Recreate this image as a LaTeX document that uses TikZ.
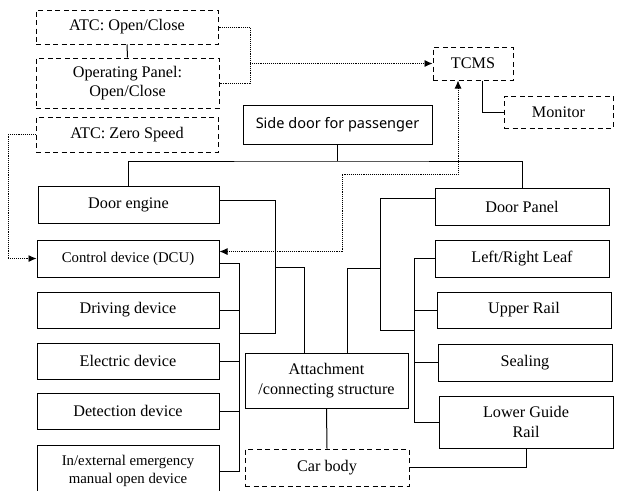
\documentclass[tikz,border=0pt]{standalone}
\usepackage{fontspec}
\setmainfont{Liberation Serif}
\newfontfamily\sidefont{Noto Sans}
\usetikzlibrary{arrows.meta}
\newcommand{\bx}{\fontsize{16.2}{19.5}\selectfont}
\newcommand{\sm}{\fontsize{14.8}{18.5}\selectfont}

\begin{document}
\begin{tikzpicture}[x=1pt,y=-1pt,line width=1pt,>={Latex[length=8pt,width=7pt]},
    box/.style={draw,inner sep=0pt,align=center,font=\bx},
    dbox/.style={box,dash pattern=on 5pt off 3.5pt},
    sig/.style={line width=0.9pt,densely dotted}]
      \useasboundingbox (0,0) rectangle (618,490);
      % signal boxes
      \node[dbox,minimum width=182,minimum height=34] (atc)  at (127,27)    {ATC: Open/Close};
      \node[dbox,minimum width=183,minimum height=50] (opp)  at (127.5,83)  {Operating Panel:\\Open/Close};
      \node[dbox,minimum width=182,minimum height=35] (zero) at (127,134.5) {ATC: Zero Speed};
      \node[dbox,minimum width=80, minimum height=33] (tcms) at (473,63.5)  {TCMS};
      \node[dbox,minimum width=109,minimum height=32] (mon)  at (558.5,112) {Monitor};
      % system tree
      \node[box,minimum width=189,minimum height=39,font=\sidefont\fontsize{14.5}{17}\selectfont]
                                                      (side) at (337.5,124.5) {Side door for passenger};
      \node[box,minimum width=181,minimum height=37] (eng)  at (128.5,204.5) {Door engine};
      \node[box,minimum width=182,minimum height=37,font=\sm] (dcu) at (128,258.5) {Control device (DCU)};
      \node[box,minimum width=182,minimum height=36] (drv)  at (128,310)   {Driving device};
      \node[box,minimum width=182,minimum height=36] (ele)  at (128,361)   {Electric device};
      \node[box,minimum width=182,minimum height=36] (det)  at (128,411)   {Detection device};
      \node[box,minimum width=182,minimum height=52,font=\sm] (man) at (128,471) {In/external emergency\\manual open device};
      \node[box,minimum width=163,minimum height=55] (att)  at (326.5,380.5) {Attachment\\/connecting structure};
      \node[dbox,minimum width=164,minimum height=37] (car) at (327,467.5) {Car body};
      \node[box,minimum width=174,minimum height=37] (pan)  at (522,206.5) {Door Panel};
      \node[box,minimum width=174,minimum height=37] (leaf) at (522,258.5) {Left/Right Leaf};
      \node[box,minimum width=174,minimum height=36] (upr)  at (524,310)   {Upper Rail};
      \node[box,minimum width=174,minimum height=37] (seal) at (525,362.5) {Sealing};
      \node[box,minimum width=174,minimum height=52] (low)  at (526,422)   {Lower Guide\\Rail};

      \coordinate (top) at (side.south |- 0,161);
      \coordinate (lb)  at (239,0);
      \coordinate (rb)  at (414,0);
      \coordinate (ej)  at (275,333);
      \coordinate (aj)  at (275,267);
      \coordinate (rj)  at (380,330);
      \coordinate (ak)  at (380,268);
      \coordinate (jn)  at (250,0 |- tcms.west);
      \coordinate (zl)  at (8,0 |- zero.west);
      \coordinate (tj)  at (342,174);

      % signals
      \draw (atc.south) -- (opp.north);
      \draw[sig] (atc.east) -| (jn) |- (opp.east);
      \draw[sig,->] (jn) -- (tcms.west);
      \draw[sig,->] (zero.west) -- (zl) |- (dcu.west);
      \draw[sig,<->] ([xshift=-15pt]tcms.south) |- (tj) |- ([yshift=7pt]dcu.east);
      \draw ([xshift=9pt]tcms.south) |- (mon.west);

      % tree
      \draw (side.south) -- (top);
      \draw (eng.north) |- (top) -| (pan.north);
      \draw ([yshift=-5pt]dcu.east) -- ([yshift=-5pt]dcu.east -| lb) -- (man.east -| lb) -- (man.east);
      \draw (drv.east) -- (drv.east -| lb);
      \draw (ele.east) -- (ele.east -| lb);
      \draw (det.east) -- (det.east -| lb);
      \draw ([yshift=4pt]eng.east) -| (ej) -- (ej -| lb);
      \draw ([xshift=-22.5pt]att.north) |- (aj);
      \draw ([xshift=20.5pt]att.north) |- (ak);
      \draw ([yshift=8pt]pan.west) -| (rj) -- (rj -| rb);
      \draw (leaf.west) -- (leaf.west -| rb) -- (low.west -| rb) -- (low.west);
      \draw (upr.west) -- (upr.west -| rb);
      \draw (seal.west) -- (seal.west -| rb);
      \draw (att.south) -- (car.north);
      \draw (car.east) -| (low.south);
     \end{tikzpicture}
\end{document}
